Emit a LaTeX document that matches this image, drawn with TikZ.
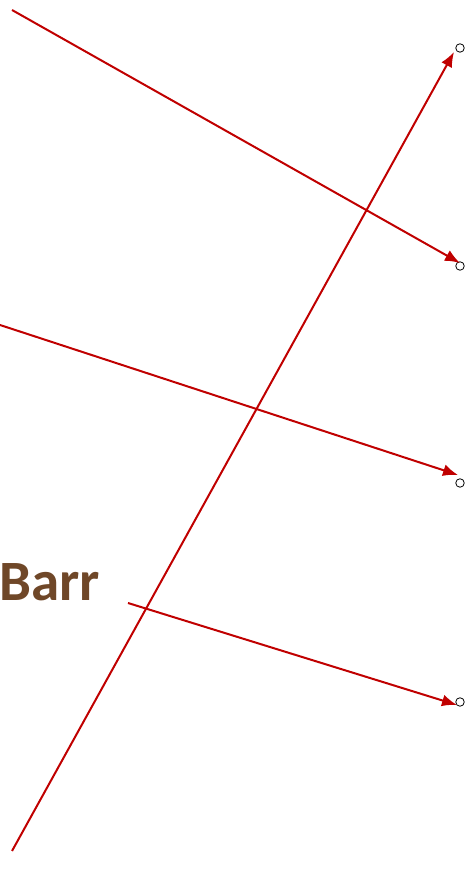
\documentclass[tikz,border=0pt]{standalone}
\usepackage{fontspec}
\setmainfont{Carlito}
\usetikzlibrary{arrows.meta}
\definecolor{arrred}{RGB}{192,0,0}
\definecolor{barrbrown}{RGB}{111,71,40}
\begin{document}
\begin{tikzpicture}[x=1pt,y=1pt,
	redarrow/.style={color=arrred,line width=2pt,-{Latex[length=15pt,width=12pt]}},
	pin/.style={circle,draw=black,line width=0.8pt,inner sep=0pt,minimum size=8.5pt}]
	\useasboundingbox (0,0) rectangle (468,875);
	% end points on the right
	\node[pin] (p1) at (460,827){};
	\node[pin] (p2) at (460,609){};
	\node[pin] (p3) at (460,392){};
	\node[pin] (p4) at (460,173){};
	\node[anchor=base west,inner sep=0pt,text=barrbrown,font=\fontsize{57}{60}\selectfont\bfseries] (barr) at (-1,274){Barr};
	% start points and tips
	\coordinate (s0) at (12,24);   \coordinate (t0) at (454,823);
	\coordinate (s1) at (12,865);  \coordinate (t1) at (460,612);
	\coordinate (s2) at (0,550);   \coordinate (t2) at (458,400);
	\coordinate (s3) at (128,272); \coordinate (t3) at (457,170);
	\draw[redarrow] (s0)--(t0);
	\draw[redarrow] (s1)--(t1);
	\draw[redarrow] (s2)--(t2);
	\draw[redarrow] (s3)--(t3);
\end{tikzpicture}
\end{document}
